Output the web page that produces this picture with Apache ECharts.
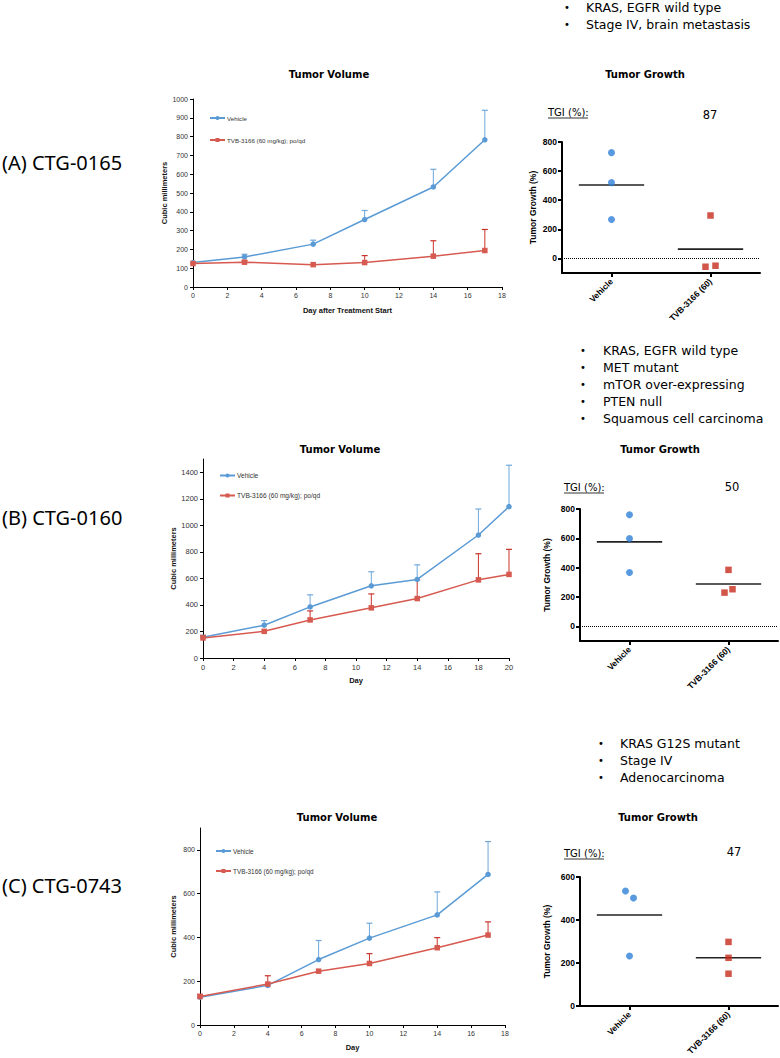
<!DOCTYPE html>
<html><head><meta charset="utf-8">
<script src="https://cdn.jsdelivr.net/npm/echarts@6/dist/echarts.min.js"></script>
<style>html,body{margin:0;padding:0;background:#fff}#c{width:780px;height:1058px}</style>
</head><body><div id="c"></div>
<script>
// ---------------- DATA ----------------
const VEH = 'Vehicle';
const TVB = 'TVB-3166 (60 mg/kg); po/qd';
const dotCats = ['Vehicle', 'TVB-3166 (60)'];
const panelLabels = ['(A) CTG-0165', '(B) CTG-0160', '(C) CTG-0743'];
const bulletsA = ['KRAS, EGFR wild type', 'Stage IV, brain metastasis'];
const bulletsB = ['KRAS, EGFR wild type', 'MET mutant', 'mTOR over-expressing', 'PTEN null', 'Squamous cell carcinoma'];
const bulletsC = ['KRAS G12S mutant', 'Stage IV', 'Adenocarcinoma'];
const tgiValues = [87, 50, 47];
const xNames = ['Day after Treatment Start', 'Day', 'Day'];

// Panel A volume
const daysA = [0, 3, 7, 10, 14, 17];
const vehA = [130, 160, 228, 359, 532, 783];
const vehErrA = [null, 174, 249, 407, 626, 940];
const tvbA = [125, 132, 119, 130, 164, 194];
const tvbErrA = [null, 140, null, 167, 246, 306];
// Panel B volume
const daysB = [0, 4, 7, 11, 14, 18, 20];
const vehB = [156, 247, 385, 544, 592, 927, 1141];
const vehErrB = [null, 282, 476, 650, 702, 1123, 1453];
const tvbB = [151, 201, 287, 378, 448, 589, 630];
const tvbErrB = [171, null, 355, 483, 590, 786, 819];
// Panel C volume
const daysC = [0, 4, 7, 10, 14, 17];
const vehC = [127, 181, 299, 397, 503, 688];
const vehErrC = [null, null, 386, 465, 608, 838];
const tvbC = [130, 187, 246, 281, 353, 411];
const tvbErrC = [140, 225, null, 326, 399, 471];

// Tick values
const xTicksA = [0, 2, 4, 6, 8, 10, 12, 14, 16, 18];
const xTicksB = [0, 2, 4, 6, 8, 10, 12, 14, 16, 18, 20];
const xTicksC = [0, 2, 4, 6, 8, 10, 12, 14, 16, 18];
const yTicksA = [0, 100, 200, 300, 400, 500, 600, 700, 800, 900, 1000];
const yTicksB = [0, 200, 400, 600, 800, 1000, 1200, 1400];
const yTicksC = [0, 200, 400, 600, 800];
const gTicksA = [0, 200, 400, 600, 800];
const gTicksB = [0, 200, 400, 600, 800];
const gTicksC = [0, 200, 400, 600];

// Tumor growth (%)
const vehGA = [727, 521, 267];
const tvbGA = [295, -57, -50];
const meanGA = [505, 64];
const vehGB = [761, 599, 367];
const tvbGB = [385, 230, 253];
const meanGB = [576, 289];
const vehGC = [535, 502, 232];
const tvbGC = [298, 224, 150];
const meanGC = [423, 224];

// ---------------- STYLE / LAYOUT ----------------
const jitVeh = [[0, 0, 0], [0, 0, 0], [-4, 4, 0]];
const jitTvb = [[0, -5, 5], [0, -4, 4], [0, 0, 0]];
const lineBlue = '#5B9BD5', lineRed = '#D65A50';
const errBlue = '#6FA8DC', errRed = '#C8322A';
const dotBlue = '#2F80D8', dotRed = '#C62A1A';
const AX = 'Liberation Sans';
const plain = v => String(v);

const lineGrids = [
  {left: 193, top: 99, width: 309, height: 188},
  {left: 203, top: 459, width: 306, height: 199},
  {left: 200, top: 828, width: 305, height: 197}
];
const dotGrids = [
  {left: 562, top: 142, width: 198, height: 131},
  {left: 580, top: 509, width: 198, height: 132},
  {left: 580, top: 877, width: 198, height: 132}
];
const lineY = [{min: 0, max: 1000}, {min: 0, max: 1500}, {min: 0, max: 900}];
const lineX = [{min: 0, max: 18}, {min: 0, max: 20}, {min: 0, max: 18}];
const dotY = [{min: -100, max: 800}, {min: -100, max: 800}, {min: 0, max: 600}];
const tickFont = [7, 7.5, 7];
const legendPos = [
  {left: 209, top: 115, gap: 16, fs: 6.2},
  {left: 219, top: 472, gap: 13, fs: 6.6},
  {left: 215, top: 848, gap: 14, fs: 6.4}
];
const yNameGap = [24, 25, 23];
const xNameGap = [19, 18, 18];
const dotNameGap = [25, 29, 29];

const volData = [
  {days: daysA, veh: vehA, vehErr: vehErrA, tvb: tvbA, tvbErr: tvbErrA, xt: xTicksA, yt: yTicksA},
  {days: daysB, veh: vehB, vehErr: vehErrB, tvb: tvbB, tvbErr: tvbErrB, xt: xTicksB, yt: yTicksB},
  {days: daysC, veh: vehC, vehErr: vehErrC, tvb: tvbC, tvbErr: tvbErrC, xt: xTicksC, yt: yTicksC}
];
const growthData = [
  {veh: vehGA, tvb: tvbGA, mean: meanGA, yt: gTicksA},
  {veh: vehGB, tvb: tvbGB, mean: meanGB, yt: gTicksB},
  {veh: vehGC, tvb: tvbGC, mean: meanGC, yt: gTicksC}
];

const grid = [], xAxis = [], yAxis = [], series = [], legend = [];

function errRender(color) {
  return function (params, api) {
    const x = api.value(0), y = api.value(1), hi = api.value(2);
    const p0 = api.coord([x, y]), p1 = api.coord([x, hi]);
    return {type: 'group', children: [
      {type: 'line', shape: {x1: p0[0], y1: p0[1], x2: p1[0], y2: p1[1]}, style: {stroke: color, lineWidth: 1}},
      {type: 'line', shape: {x1: p1[0] - 3, y1: p1[1], x2: p1[0] + 3, y2: p1[1]}, style: {stroke: color, lineWidth: 1.2}}
    ]};
  };
}

volData.forEach((d, i) => {
  const gi = grid.length;
  grid.push(Object.assign({containLabel: false}, lineGrids[i]));
  xAxis.push({
    type: 'value', gridIndex: gi, min: lineX[i].min, max: lineX[i].max,
    name: xNames[i], nameLocation: 'middle', nameGap: xNameGap[i],
    nameTextStyle: {fontFamily: AX, fontWeight: 'bold', fontSize: 7.5, color: '#111'},
    axisLine: {show: true, lineStyle: {color: '#000', width: 1}},
    axisTick: {show: true, length: 3, customValues: d.xt, lineStyle: {color: '#000'}},
    axisLabel: {customValues: d.xt, formatter: plain, fontFamily: AX, fontSize: tickFont[i], color: '#333', margin: 5},
    splitLine: {show: false}
  });
  yAxis.push({
    type: 'value', gridIndex: gi, min: lineY[i].min, max: lineY[i].max,
    name: 'Cubic millimeters', nameLocation: 'middle', nameGap: yNameGap[i], nameRotate: 90,
    nameTextStyle: {fontFamily: AX, fontWeight: 'bold', fontSize: 7.5, color: '#111'},
    axisLine: {show: true, lineStyle: {color: '#000', width: 1}},
    axisTick: {show: true, length: 3, customValues: d.yt, lineStyle: {color: '#000'}},
    axisLabel: {customValues: d.yt, formatter: plain, fontFamily: AX, fontSize: tickFont[i], color: '#333', margin: 5},
    splitLine: {show: false}
  });
  const vehPts = d.days.map((x, k) => [x, d.veh[k]]);
  const tvbPts = d.days.map((x, k) => [x, d.tvb[k]]);
  const vehErr = d.days.map((x, k) => d.vehErr[k] == null ? null : [x, d.veh[k], d.vehErr[k]]).filter(Boolean);
  const tvbErr = d.days.map((x, k) => d.tvbErr[k] == null ? null : [x, d.tvb[k], d.tvbErr[k]]).filter(Boolean);
  series.push({type: 'custom', xAxisIndex: gi, yAxisIndex: gi, renderItem: errRender(errBlue), data: vehErr, encode: {x: 0, y: [1, 2]}, z: 2, silent: true});
  series.push({type: 'custom', xAxisIndex: gi, yAxisIndex: gi, renderItem: errRender(errRed), data: tvbErr, encode: {x: 0, y: [1, 2]}, z: 2, silent: true});
  series.push({name: VEH, type: 'line', xAxisIndex: gi, yAxisIndex: gi, data: vehPts, symbol: 'circle', symbolSize: 5.5,
    lineStyle: {color: lineBlue, width: 1.5}, itemStyle: {color: lineBlue}, z: 3, animation: false});
  series.push({name: TVB, type: 'line', xAxisIndex: gi, yAxisIndex: gi, data: tvbPts, symbol: 'rect', symbolSize: 5.5,
    lineStyle: {color: lineRed, width: 1.5}, itemStyle: {color: lineRed}, z: 4, animation: false});
  legend.push({
    left: legendPos[i].left, top: legendPos[i].top, orient: 'vertical', itemGap: legendPos[i].gap,
    itemWidth: 15, itemHeight: 5, padding: 0, selectedMode: false,
    textStyle: {fontFamily: AX, fontSize: legendPos[i].fs, color: '#333', padding: [0, 0, 0, -3]},
    data: [VEH, TVB]
  });
});

function meanRender(params, api) {
  const c = api.coord([api.value(0), api.value(1)]);
  const w = api.size([1, 0])[0] * 0.33;
  return {type: 'line', shape: {x1: c[0] - w, y1: c[1], x2: c[0] + w, y2: c[1]}, style: {stroke: '#222', lineWidth: 1.6}};
}

growthData.forEach((d, i) => {
  const gi = grid.length;
  grid.push(Object.assign({containLabel: false}, dotGrids[i]));
  xAxis.push({
    type: 'category', gridIndex: gi, data: dotCats, boundaryGap: true,
    axisLine: {show: true, onZero: false, lineStyle: {color: '#000', width: 2}},
    axisTick: {show: true, alignWithLabel: true, length: 4, lineStyle: {color: '#000', width: 2}},
    axisLabel: {rotate: 45, fontFamily: AX, fontWeight: 'bold', fontSize: 8.5, color: '#000', margin: 7, interval: 0},
    splitLine: {show: false}
  });
  yAxis.push({
    type: 'value', gridIndex: gi, min: dotY[i].min, max: dotY[i].max,
    name: 'Tumor Growth (%)', nameLocation: 'middle', nameGap: dotNameGap[i], nameRotate: 90,
    nameTextStyle: {fontFamily: AX, fontWeight: 'bold', fontSize: 8.5, color: '#000'},
    axisLine: {show: true, lineStyle: {color: '#000', width: 2}},
    axisTick: {show: true, length: 4, customValues: d.yt, lineStyle: {color: '#000', width: 2}},
    axisLabel: {customValues: d.yt, formatter: plain, fontFamily: AX, fontWeight: 'bold', fontSize: 8.5, color: '#000', margin: 5},
    splitLine: {show: false}
  });
  series.push({
    name: 'Vehicle growth', type: 'scatter', xAxisIndex: gi, yAxisIndex: gi, symbol: 'circle', symbolSize: 7,
    itemStyle: {color: dotBlue}, z: 5,
    data: d.veh.map((v, k) => ({value: [0, v], symbolOffset: [jitVeh[i][k], 0]})),
    markLine: dotY[i].min < 0 ? {silent: true, symbol: ['none', 'none'], label: {show: false},
      lineStyle: {type: 'dotted', color: '#000', width: 1}, data: [{yAxis: 0}], animation: false} : undefined,
    animation: false
  });
  series.push({
    name: 'TVB growth', type: 'scatter', xAxisIndex: gi, yAxisIndex: gi, symbol: 'rect', symbolSize: 6.5,
    itemStyle: {color: dotRed}, z: 5,
    data: d.tvb.map((v, k) => ({value: [1, v], symbolOffset: [jitTvb[i][k], 0]})),
    animation: false
  });
  series.push({type: 'custom', xAxisIndex: gi, yAxisIndex: gi, renderItem: meanRender,
    data: d.mean.map((m, k) => [k, m]), encode: {x: 0, y: 1}, z: 4, silent: true});
});

// ---------------- TEXT GRAPHICS ----------------
const graphic = [];
function txt(text, x, y, font, align, color) {
  graphic.push({type: 'text', silent: true, style: {text: text, x: x, y: y, font: font, fill: color || '#000',
    align: align || 'left', verticalAlign: 'middle', textAlign: align || 'left', textVerticalAlign: 'middle'}});
}
const labelY = [162, 517, 885];
panelLabels.forEach((t, i) => txt(t, 2, labelY[i], '20px "Noto Sans"', 'left', '#000'));

const bulletSets = [
  {items: bulletsA, bx: 567, tx: 586, y0: 7},
  {items: bulletsB, bx: 583, tx: 603, y0: 350},
  {items: bulletsC, bx: 601, tx: 620, y0: 743}
];
bulletSets.forEach(b => b.items.forEach((t, k) => {
  const y = b.y0 + k * 17;
  txt('•', b.bx, y, '10px "DejaVu Sans"', 'center', '#000');
  txt(t, b.tx, y, '12.5px "DejaVu Sans"', 'left', '#000');
}));

const titleRows = [
  {y: 74, vx: 329, gx: 645},
  {y: 449, vx: 340, gx: 660},
  {y: 817, vx: 337, gx: 658}
];
titleRows.forEach(r => {
  txt('Tumor Volume', r.vx, r.y, 'bold 10px "DejaVu Sans"', 'center', '#000');
  txt('Tumor Growth', r.gx, r.y, 'bold 10px "DejaVu Sans"', 'center', '#000');
});

const tgiRows = [
  {x: 548, y: 112, nx: 710, ny: 115},
  {x: 564, y: 487, nx: 732, ny: 487},
  {x: 564, y: 853, nx: 734, ny: 852}
];
tgiRows.forEach((r, i) => {
  txt('TGI (%):', r.x, r.y, '10px "DejaVu Sans"', 'left', '#000');
  graphic.push({type: 'line', silent: true, shape: {x1: r.x, y1: r.y + 6, x2: r.x + 40, y2: r.y + 6}, style: {stroke: '#000', lineWidth: 0.8}});
  txt(String(tgiValues[i]), r.nx, r.ny, '11.5px "DejaVu Sans"', 'center', '#000');
});

const chart = echarts.init(document.getElementById('c'), null, {renderer: 'svg', width: 780, height: 1058});
chart.setOption({
  animation: false,
  backgroundColor: '#fff',
  grid: grid, xAxis: xAxis, yAxis: yAxis, series: series, legend: legend, graphic: graphic
});
</script>
</body></html>
